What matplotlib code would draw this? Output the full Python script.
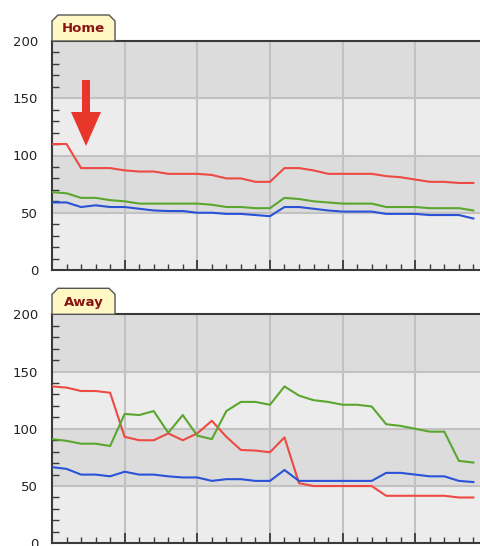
import numpy as np
import matplotlib.pyplot as plt
from matplotlib.patches import Polygon, FancyArrow

# match index, one point per x tick
home_red = [110, 110, 89, 89, 89, 87, 86, 86, 84, 84, 84, 83, 80, 80, 77,
            77, 89, 89, 87, 84, 84, 84, 84, 82, 81, 79, 77, 77, 76, 76]
home_green = [68, 67, 63, 63, 61, 60, 58, 58, 58, 58, 58, 57, 55, 55, 54,
              54, 63, 62, 60, 59, 58, 58, 58, 55, 55, 55, 54, 54, 54, 52]
home_blue = [59, 59, 55, 56.5, 55, 55, 53.5, 52, 51.5, 51.5, 50, 50, 49, 49, 48,
             47, 55, 55, 53.5, 52, 51, 51, 51, 49, 49, 49, 48, 48, 48, 45]

away_red = [137, 136, 133, 133, 131.5, 93, 90, 90, 96, 90, 96, 107, 93, 81.5, 81,
            79.5, 92.5, 52.5, 50, 50, 50, 50, 50, 41.5, 41.5, 41.5, 41.5, 41.5, 40, 40]
away_green = [91, 89.5, 87, 87, 85, 113, 112, 115.5, 96.5, 112, 94, 91, 115.5, 123.5, 123.5,
              121, 137, 129, 125, 123.5, 121, 121, 119.5, 104, 102.5, 100, 97.5, 97.5, 72, 70.5]
away_blue = [66.5, 65, 60, 60, 58.5, 62.5, 60, 60, 58.5, 57.5, 57.5, 54.5, 56, 56, 54.5,
             54.5, 64, 54.5, 54.5, 54.5, 54.5, 54.5, 54.5, 61.5, 61.5, 60, 58.5, 58.5, 54.5, 53.5]

panels = [('Home', home_red, home_green, home_blue),
          ('Away', away_red, away_green, away_blue)]

W, H = 480, 546
fig = plt.figure(figsize=(W / 100, H / 100), dpi=100)

px_per_x = 14.53
ax_left = 52
ax_w = 30 * px_per_x
tops = [41, 314.3]
ax_h = 229

RED = '#ec4a42'
GREEN = '#5ba62e'
BLUE = '#2a52d6'
EDGE = '#3a3a3a'

for (name, red, green, blue), top in zip(panels, tops):
    ax = fig.add_axes([ax_left / W, (H - top - ax_h) / H, ax_w / W, ax_h / H])
    ax.set_xlim(0, 30)
    ax.set_ylim(0, 200)
    for lo, c in [(0, '#ececec'), (50, '#dcdcdc'), (100, '#ececec'), (150, '#dcdcdc')]:
        ax.axhspan(lo, lo + 50, color=c, zorder=0, lw=0)
    for yv in (50, 100, 150):
        ax.axhline(yv, color='#c2c2c2', lw=1.5, zorder=1)
    for xv in range(5, 30, 5):
        ax.axvline(xv, color='#c2c2c2', lw=1.5, zorder=1)

    x = np.arange(len(red))
    ax.plot(x, red, color=RED, lw=1.5, zorder=3)
    ax.plot(x, green, color=GREEN, lw=1.5, zorder=3)
    ax.plot(x, blue, color=BLUE, lw=1.5, zorder=3)

    ax.set_yticks([0, 50, 100, 150, 200])
    ax.set_yticks(np.arange(0, 201, 10), minor=True)
    ax.set_xticks(np.arange(0, 30, 5))
    ax.set_xticks(np.arange(0, 30, 1), minor=True)
    ax.set_xticklabels([])
    ax.tick_params(axis='y', which='major', length=0, labelsize=9.5,
                   labelcolor='#222222', pad=10)
    ax.tick_params(axis='y', which='minor', direction='in', length=5, width=1, color=EDGE)
    ax.tick_params(axis='x', which='major', direction='in', length=7, width=1.3, color=EDGE)
    ax.tick_params(axis='x', which='minor', direction='in', length=4.5, width=1, color=EDGE)
    for s in ax.spines.values():
        s.set_color(EDGE)
        s.set_linewidth(1.5)
    ax.spines['right'].set_visible(False)

    # tab label above the panel
    tl, tr, tt, tb, cut = 52, 115, top - 26, top, 6
    pts = [(tl, tb), (tl, tt + cut), (tl + cut, tt), (tr - cut, tt), (tr, tt + cut), (tr, tb)]
    pts = [(px / W, (H - py) / H) for px, py in pts]
    fig.patches.append(Polygon(pts, closed=True, transform=fig.transFigure,
                               facecolor='#fff8c4', edgecolor='#555555', lw=1))
    fig.text((tl + tr) / 2 / W, (H - (tt + tb) / 2 - 1) / H, name, ha='center', va='center',
             fontsize=9.5, fontweight='bold', color='#8a1414')

# red marker arrow in the home panel
fig.patches.append(FancyArrow(86 / W, (H - 80) / H, 0, -66 / H, width=8 / W,
                              head_width=30 / W, head_length=34 / H,
                              length_includes_head=True, transform=fig.transFigure,
                              color='#e8362a', lw=0))

fig.savefig('out.png', dpi=100)
